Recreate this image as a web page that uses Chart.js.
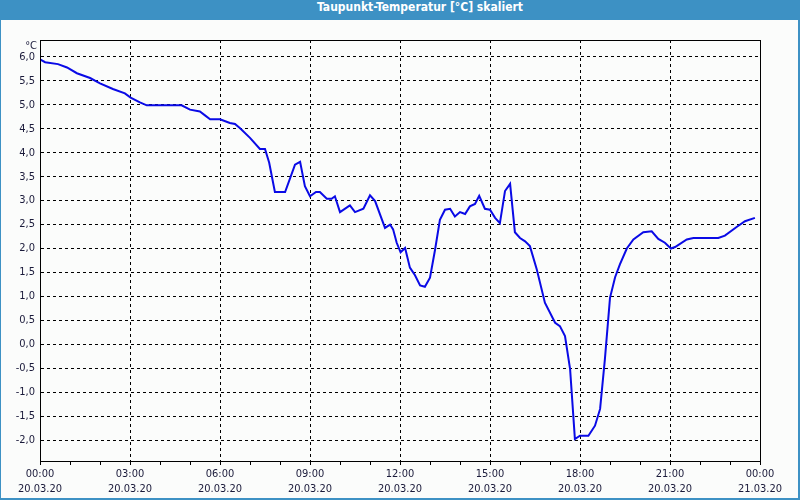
<!DOCTYPE html>
<html>
<head>
<meta charset="utf-8">
<script src="https://cdn.jsdelivr.net/npm/chart.js@4.4.1/dist/chart.umd.min.js"></script>
<style>
  body { margin: 0; width: 800px; height: 500px; overflow: hidden; }
  #frame { position: absolute; left: 0; top: 0; width: 800px; height: 500px; background: #3d91c4; }
  #title { position: absolute; left: 0; top: 0; width: 840px; height: 20px; line-height: 20px;
           text-align: center; color: #fff; font: bold 12px "DejaVu Sans Condensed", "DejaVu Sans", sans-serif; }
  #inner { position: absolute; left: 1px; top: 20px; width: 797px; height: 478px; background: #fbfcfb; }
  #wrap { position: absolute; left: 0; top: 0; width: 800px; height: 500px; }
</style>
</head>
<body>
<div id="frame"></div>
<div id="title">Taupunkt-Temperatur [°C] skaliert</div>
<div id="inner"></div>
<div id="wrap"><canvas id="dewChart" width="800" height="500"></canvas></div>
<script>
// time in hours since 20.03.20 00:00
const hours = [0, 0.17, 0.6, 0.9, 1.23, 1.67, 2.0, 2.43, 2.83, 3.02, 3.33, 3.56, 4.72, 5.0, 5.33, 5.5, 5.67, 6.0,
  6.33, 6.5, 6.67, 7.0, 7.33, 7.5, 7.64, 7.83, 8.17, 8.5, 8.67, 8.83, 9.0, 9.2, 9.33, 9.56, 9.72, 9.83,
  10.0, 10.33, 10.5, 10.78, 11.0, 11.17, 11.5, 11.67, 11.77, 11.89, 12.02, 12.17, 12.33, 12.5, 12.67, 12.83,
  13.0, 13.17, 13.33, 13.5, 13.67, 13.83, 14.0, 14.17, 14.33, 14.5, 14.64, 14.83, 15.0, 15.17, 15.33, 15.5,
  15.67, 15.83, 16.0, 16.17, 16.33, 16.56, 16.83, 17.17, 17.33, 17.5, 17.67, 17.83, 18.0, 18.28, 18.5, 18.67,
  18.83, 19.0, 19.17, 19.33, 19.56, 19.78, 20.11, 20.39, 20.61, 20.83, 21.03, 21.17, 21.56, 21.78, 22.61,
  22.83, 23.22, 23.5, 23.83];
const dewPoint = [5.95, 5.89, 5.85, 5.78, 5.66, 5.56, 5.45, 5.33, 5.24, 5.15, 5.05, 4.99, 4.99, 4.90, 4.86, 4.78, 4.70, 4.70,
  4.62, 4.60, 4.51, 4.31, 4.08, 4.08, 3.79, 3.18, 3.18, 3.75, 3.81, 3.30, 3.09, 3.18, 3.18, 3.04, 3.04, 3.09,
  2.76, 2.90, 2.76, 2.83, 3.11, 2.99, 2.43, 2.50, 2.40, 2.12, 1.92, 2.01, 1.60, 1.44, 1.23, 1.20,
  1.39, 1.98, 2.60, 2.81, 2.83, 2.67, 2.76, 2.72, 2.88, 2.93, 3.10, 2.83, 2.81, 2.64, 2.53, 3.20,
  3.35, 2.34, 2.22, 2.15, 2.05, 1.56, 0.87, 0.45, 0.38, 0.17, -0.52, -1.98, -1.91, -1.91, -1.70, -1.35,
  -0.31, 0.97, 1.40, 1.67, 2.00, 2.19, 2.34, 2.36, 2.20, 2.12, 2.00, 2.03, 2.19, 2.22, 2.22,
  2.27, 2.45, 2.57, 2.64];

const yTicks = [-2, -1.5, -1, -0.5, 0, 0.5, 1, 1.5, 2, 2.5, 3, 3.5, 4, 4.5, 5, 5.5, 6];
const timeLabels = { 0: '00:00', 3: '03:00', 6: '06:00', 9: '09:00', 12: '12:00', 15: '15:00', 18: '18:00', 21: '21:00', 24: '00:00' };
const dateLabels = { 0: '20.03.20', 3: '20.03.20', 6: '20.03.20', 9: '20.03.20', 12: '20.03.20', 15: '20.03.20', 18: '20.03.20', 21: '20.03.20', 24: '21.03.20' };

const labelFont = { family: '"DejaVu Sans Condensed", "Liberation Sans", sans-serif', size: 11 };

const framePlugin = {
  id: 'frame',
  afterDraw(chart) {
    const { ctx, chartArea: a } = chart;
    ctx.save();
    ctx.strokeStyle = '#000';
    ctx.lineWidth = 1;
    ctx.strokeRect(Math.round(a.left) + 0.5, Math.round(a.top) + 0.5, Math.round(a.right - a.left), Math.round(a.bottom - a.top));
    ctx.fillStyle = '#1a1a3a';
    ctx.font = '11px "DejaVu Sans Condensed", "Liberation Sans", sans-serif';
    ctx.textAlign = 'right';
    ctx.textBaseline = 'middle';
    ctx.fillText('°C', a.left - 3, a.top + 6);
    ctx.restore();
  }
};

new Chart(document.getElementById('dewChart'), {
  type: 'line',
  data: {
    datasets: [{
      data: hours.map((h, i) => ({ x: h, y: dewPoint[i] })),
      borderColor: '#0a0ae6',
      borderWidth: 2,
      pointRadius: 0,
      tension: 0,
      fill: false
    }]
  },
  options: {
    responsive: false,
    animation: false,
    layout: { padding: { top: 40, right: 40, left: 0, bottom: 0 } },
    plugins: { legend: { display: false }, tooltip: { enabled: false } },
    scales: {
      x: {
        type: 'linear',
        min: 0,
        max: 24,
        afterFit(scale) { scale.height = 39; },
        afterBuildTicks(scale) {
          const t = [];
          for (let h = 0; h <= 24; h++) t.push({ value: h });
          scale.ticks = t;
        },
        ticks: {
          autoSkip: false,
          maxRotation: 0,
          padding: 2,
          color: '#1a1a3a',
          font: Object.assign({ lineHeight: 15 / 11 }, labelFont),
          callback: v => (v % 3 === 0 ? [timeLabels[v], dateLabels[v]] : '')
        },
        grid: {
          color: c => (c.tick && c.tick.value % 3 === 0 ? '#000' : 'rgba(0,0,0,0)'),
          tickColor: '#000',
          tickLength: 4,
          lineWidth: 1
        },
        border: { color: '#000', dash: [3, 3] }
      },
      y: {
        min: -2.4375,
        max: 6.354,
        afterFit(scale) { scale.width = 40; },
        afterBuildTicks(scale) { scale.ticks = yTicks.map(v => ({ value: v })); },
        ticks: {
          padding: 5,
          color: '#1a1a3a',
          font: labelFont,
          callback: v => v.toFixed(1).replace('.', ',')
        },
        grid: { color: '#000', drawTicks: false, lineWidth: 1 },
        border: { color: '#000', dash: [3, 3] }
      }
    }
  },
  plugins: [framePlugin]
});
</script>
</body>
</html>
